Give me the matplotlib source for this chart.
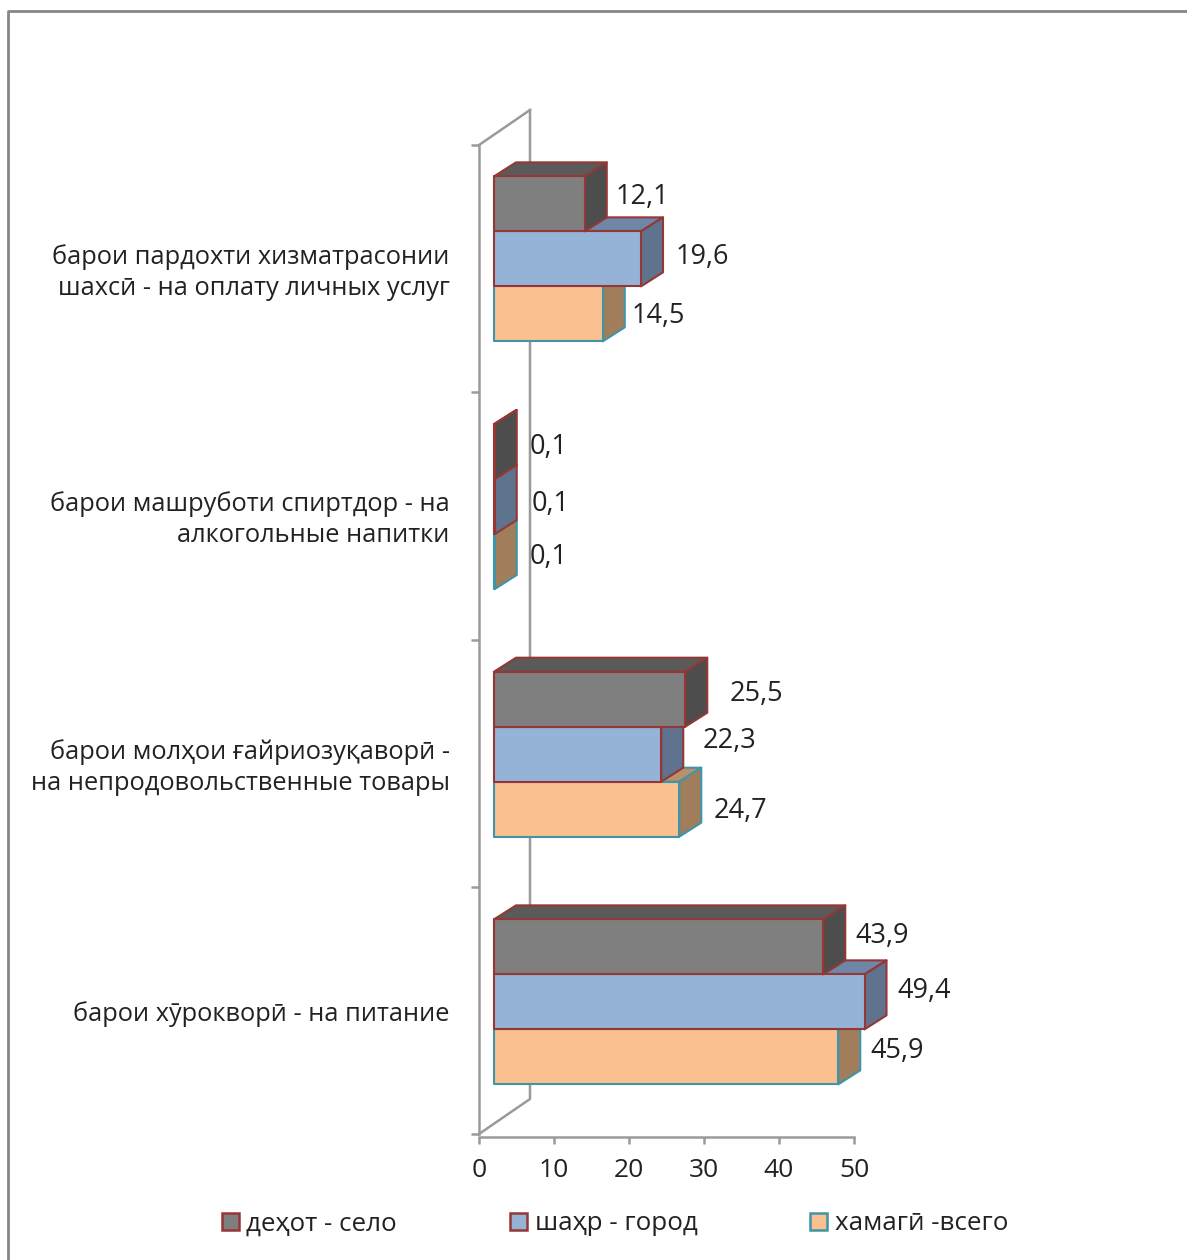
import matplotlib
matplotlib.use('Agg')
import matplotlib.pyplot as plt
from matplotlib.lines import Line2D
from matplotlib.patches import Patch, Polygon

plt.rcParams['font.family'] = ['Open Sans', 'DejaVu Sans']

categories = [
    'барои хӯрокворӣ - на питание',
    'барои молҳои ғайриозуқаворӣ -\nна непродовольственные товары',
    'барои машруботи спиртдор - на\nалкогольные напитки',
    'барои пардохти хизматрасонии\nшахсӣ - на оплату личных услуг',
]
series_names = ['деҳот - село', 'шаҳр - город', 'хамагӣ -всего']
dehot = [43.9, 25.5, 0.1, 12.1]
shahr = [49.4, 22.3, 0.1, 19.6]
hamagi = [45.9, 24.7, 0.1, 14.5]
x_ticks = [0, 10, 20, 30, 40, 50]

W, H = 1187, 1260
TEXT = '#222222'
AXIS = '#9a9a9a'

# (front, top, side, edge)
colors = {
    'hamagi': ('#FAC090', '#B8906A', '#A27D5C', '#3F95A8'),
    'shahr': ('#95B3D7', '#6E87A8', '#5F738F', '#953735'),
    'dehot': ('#7F7F7F', '#5A5A5A', '#4D4D4D', '#953735'),
}

# label nudges in pixels, the chart puts them by hand too
nudge_hamagi = [(10, 6), (12, -2), (13, 5), (7, -2)]
nudge_shahr = [(11, 11), (19, 13), (15, 3), (13, 2)]
nudge_dehot = [(10, 11), (22, 5), (13, 5), (9, 7)]

fig = plt.figure(figsize=(W / 100, H / 100), dpi=100)
ax = fig.add_axes([479 / W, 1 - 1134 / H, 375 / W, 989 / H])
ax.set_xlim(0, 50)
ax.set_ylim(0, 4)

px_x = 50 / 375
px_y = 4 / 989

# 3d look: the box goes back by this much
wall_dx, wall_dy = 51 * px_x, 35 * px_y
depth_x, depth_y = 22 * px_x, 14 * px_y
start_x, start_y = 15 * px_x, 8.5 * px_y
bar_h = 55 * px_y
pitch = 247.67 * px_y

ax.patch.set_visible(False)
for s in ['top', 'right']:
    ax.spines[s].set_visible(False)
for s in ['left', 'bottom']:
    ax.spines[s].set_color(AXIS)
    ax.spines[s].set_linewidth(1.8)
ax.spines['bottom'].set_position(('outward', 2))

ax.set_xticks(x_ticks)
ax.tick_params(axis='x', length=5, width=1.8, color=AXIS, labelsize=19,
               labelcolor=TEXT, pad=10)
ax.set_yticks(range(5))
ax.set_yticklabels([])
ax.tick_params(axis='y', which='major', length=6, width=1.8, color=AXIS)
ax.set_yticks([0.497, 1.508, 2.508, 3.51], minor=True)
ax.set_yticklabels(categories, minor=True, fontsize=18.25, color=TEXT, ha='right',
                   linespacing=1.32)
ax.tick_params(axis='y', which='minor', length=0, pad=21)

# back wall
ax.plot([0, wall_dx, wall_dx], [0, wall_dy, 4 + wall_dy], color=AXIS, lw=1.8,
        clip_on=False, zorder=1)
ax.plot([0, wall_dx], [4, 4 + wall_dy], color=AXIS, lw=1.8, clip_on=False, zorder=1)


def draw_bar(value, bottom, style, z):
    front, top, side, edge = style
    x0 = start_x
    x1 = start_x + value
    y0 = bottom
    y1 = bottom + bar_h
    faces = [
        ([(x0, y1), (x1, y1), (x1 + depth_x, y1 + depth_y), (x0 + depth_x, y1 + depth_y)], top),
        ([(x1, y0), (x1 + depth_x, y0 + depth_y), (x1 + depth_x, y1 + depth_y), (x1, y1)], side),
        ([(x0, y0), (x1, y0), (x1, y1), (x0, y1)], front),
    ]
    for pts, col in faces:
        ax.add_patch(Polygon(pts, closed=True, facecolor=col, edgecolor=edge, lw=1.5,
                             joinstyle='round', clip_on=False, zorder=z))


rows = [
    (hamagi, colors['hamagi'], nudge_hamagi),
    (shahr, colors['shahr'], nudge_shahr),
    (dehot, colors['dehot'], nudge_dehot),
]

for i in range(len(categories)):
    group_bottom = 0.5 + start_y - 1.5 * bar_h + i * pitch
    for k, (vals, style, nudge) in enumerate(rows):
        bottom = group_bottom + k * bar_h
        draw_bar(vals[i], bottom, style, 3 + k)
        ax.annotate(str(vals[i]).replace('.', ','),
                    xy=(start_x + vals[i] + depth_x, bottom + bar_h / 2),
                    xytext=nudge[i], textcoords='offset pixels',
                    ha='left', va='center', fontsize=19.5, color=TEXT,
                    annotation_clip=False, zorder=10)

# legend
handles = [
    Patch(facecolor=colors['dehot'][0], edgecolor=colors['dehot'][3], lw=1.8),
    Patch(facecolor=colors['shahr'][0], edgecolor=colors['shahr'][3], lw=1.8),
    Patch(facecolor=colors['hamagi'][0], edgecolor=colors['hamagi'][3], lw=1.8),
]
fig.legend(handles, series_names, ncols=3, loc='center', frameon=False,
           bbox_to_anchor=(615 / W, 1 - 1224 / H), fontsize=18.7, labelcolor=TEXT,
           handlelength=0.65, handleheight=0.65, handletextpad=0.3, columnspacing=4.35)

# outer chart frame, only top and left are in the crop
fig.add_artist(Line2D([8 / W, 8 / W, 1], [0, 1 - 11 / H, 1 - 11 / H],
                      transform=fig.transFigure, color='#868686', lw=2))

fig.savefig('out.png', dpi=100)
